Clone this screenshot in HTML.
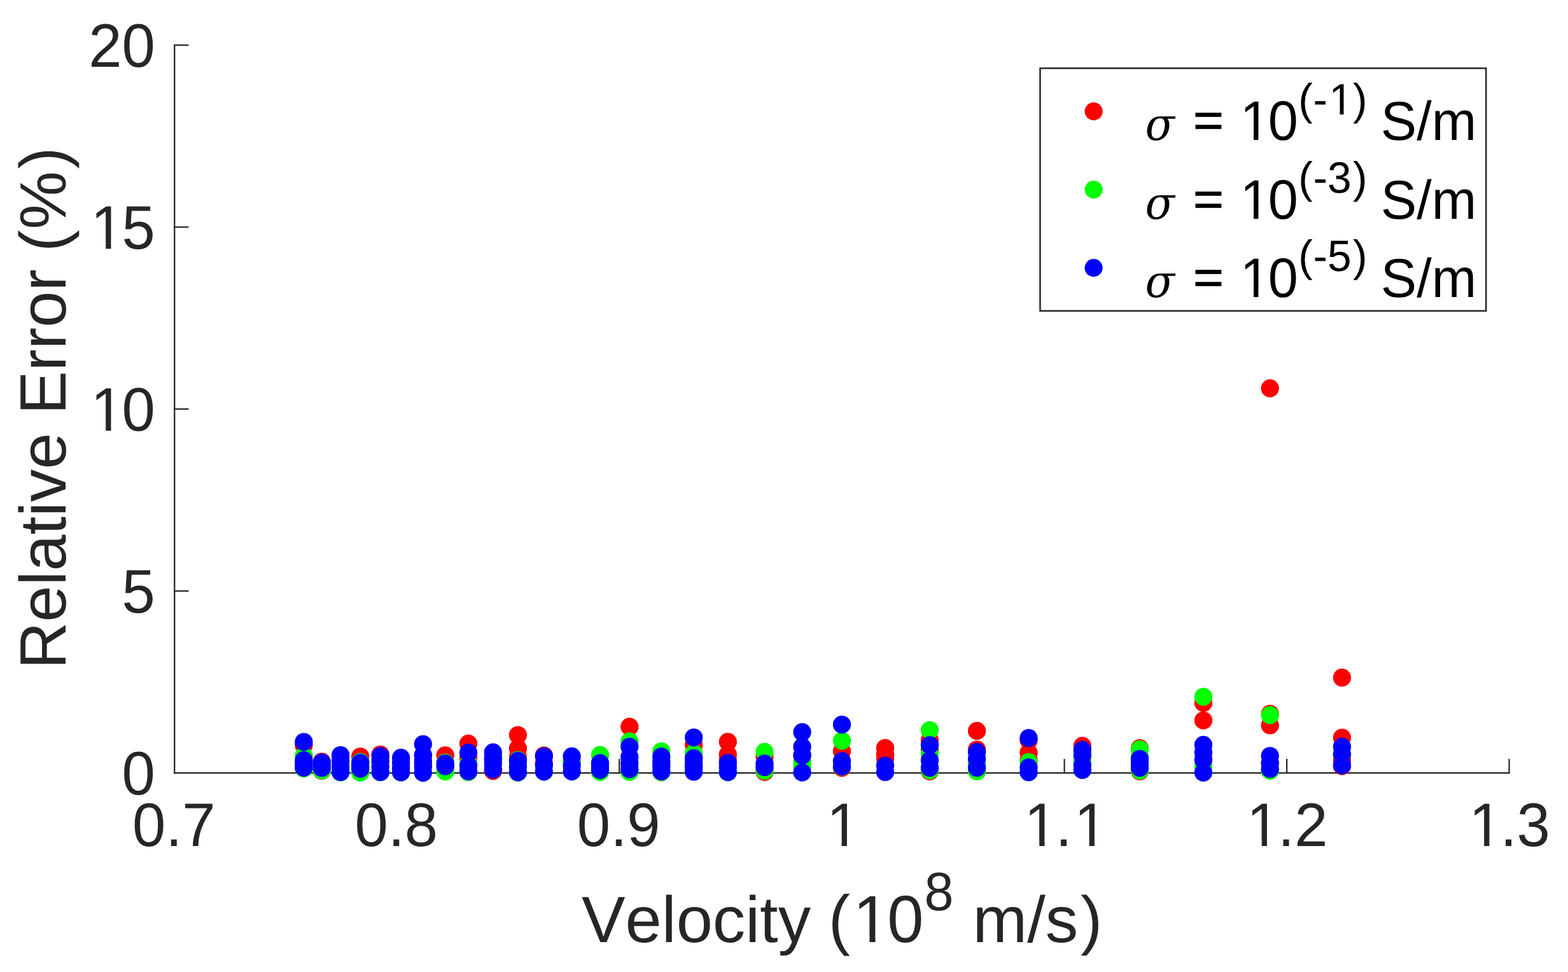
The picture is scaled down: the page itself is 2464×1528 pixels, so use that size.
<!DOCTYPE html>
<html lang="en">
<head>
<meta charset="utf-8">
<title>Relative Error vs Velocity</title>
<style>
html,body{margin:0;padding:0;background:#fff;}
body{width:2464px;height:1528px;overflow:hidden;}
svg{display:block;}
text{font-family:"Liberation Sans",Arial,Helvetica,sans-serif;font-kerning:none;font-variant-ligatures:none;text-rendering:geometricPrecision;white-space:pre;fill:#262626;}
.lg text{fill:#000;}
text.sg{font-family:"DejaVu Serif","Liberation Serif",serif;font-style:italic;}
</style>
</head>
<body>
<svg width="2464" height="1528" viewBox="0 0 2464 1528">
<rect x="0" y="0" width="2464" height="1528" fill="#ffffff"/>
<g id="axes" fill="#262626">
<rect x="273.1" y="69.85" width="2.3" height="1146.45"/>
<rect x="273.1" y="1214.0" width="2099.6" height="2.3"/>
<rect x="622.7" y="1192.95" width="2.2" height="22.2"/>
<rect x="972.1" y="1192.95" width="2.2" height="22.2"/>
<rect x="1321.7" y="1192.95" width="2.2" height="22.2"/>
<rect x="1671.5" y="1192.95" width="2.2" height="22.2"/>
<rect x="2021" y="1192.95" width="2.2" height="22.2"/>
<rect x="2370.45" y="1192.95" width="2.2" height="22.2"/>
<rect x="273.1" y="928" width="23.35" height="2.2"/>
<rect x="273.1" y="641.9" width="23.35" height="2.2"/>
<rect x="273.1" y="355.85" width="23.35" height="2.2"/>
<rect x="273.1" y="69.85" width="23.35" height="2.2"/>
</g>
<g id="xticklabels">
<text transform="translate(207.96,1330) scale(1.0,1.03)" style="font-size:94px" xml:space="preserve">0.7</text>
<text transform="translate(557.46,1330) scale(1.0,1.03)" style="font-size:94px" xml:space="preserve">0.8</text>
<text transform="translate(906.86,1330) scale(1.0,1.03)" style="font-size:94px" xml:space="preserve">0.9</text>
<text transform="translate(1295.66,1330) scale(1.0,1.03)" dx="3.3" style="font-size:94px" xml:space="preserve">1</text>
<text transform="translate(1606.26,1330) scale(1.0,1.03)" dx="3.3 -3.3 3.3" style="font-size:94px" xml:space="preserve">1.1</text>
<text transform="translate(1955.76,1330) scale(1.0,1.03)" dx="3.3 -3.3 0" style="font-size:94px" xml:space="preserve">1.2</text>
<text transform="translate(2305.21,1330) scale(1.0,1.03)" dx="3.3 -3.3 0" style="font-size:94px" xml:space="preserve">1.3</text>
</g>
<g id="yticklabels">
<text transform="translate(191.52,1248.95) scale(1.0,1.03)" style="font-size:94px" xml:space="preserve">0</text>
<text transform="translate(191.52,962.9) scale(1.0,1.03)" style="font-size:94px" xml:space="preserve">5</text>
<text transform="translate(139.24,676.8) scale(1.0,1.03)" dx="3.3 -3.3" style="font-size:94px" xml:space="preserve">10</text>
<text transform="translate(139.24,390.75) scale(1.0,1.03)" dx="3.3 -3.3" style="font-size:94px" xml:space="preserve">15</text>
<text transform="translate(139.24,104.75) scale(1.0,1.03)" style="font-size:94px" xml:space="preserve">20</text>
</g>
<g id="xlabel">
<text transform="translate(914,1480.9)" style="font-size:102.85px" xml:space="preserve">Velocity </text>
<text transform="translate(1302.7,1480.9) scale(1.0,1.02)" dx="-1.03 4.64 -3.62" style="font-size:102.85px" xml:space="preserve">(10</text>
<text transform="translate(1452.55,1431.2) scale(1.0,1.03)" style="font-size:82.7px" xml:space="preserve">8</text>
<text transform="translate(1500.04,1480.9)" dx="0 0 0 0 3.6" style="font-size:102.85px" xml:space="preserve"> m/s)</text>
</g>
<g id="ylabel" transform="translate(103.4,1052.0) rotate(-90)">
<text transform="translate(0,0)" dx="0 0 0 0 0 0 0 0 0 0 0 0 0 0 0 -1.03 1.03 3.6" style="font-size:102.85px" xml:space="preserve">Relative Error (%)</text>
</g>
<g fill="#ffffff">
<rect x="1304.01" y="1321.27" width="18.59" height="10.23"/>
<rect x="1330.91" y="1321.27" width="17.4" height="10.23"/>
<rect x="1614.62" y="1321.27" width="18.59" height="10.23"/>
<rect x="1641.51" y="1321.27" width="17.4" height="10.23"/>
<rect x="1693.01" y="1321.27" width="18.59" height="10.23"/>
<rect x="1719.91" y="1321.27" width="17.4" height="10.23"/>
<rect x="1964.12" y="1321.27" width="18.59" height="10.23"/>
<rect x="1991.01" y="1321.27" width="17.4" height="10.23"/>
<rect x="2313.57" y="1321.27" width="18.59" height="10.23"/>
<rect x="2340.46" y="1321.27" width="17.4" height="10.23"/>
<rect x="147.6" y="668.07" width="18.59" height="10.23"/>
<rect x="174.49" y="668.07" width="17.4" height="10.23"/>
<rect x="147.6" y="382.02" width="18.59" height="10.23"/>
<rect x="174.49" y="382.02" width="17.4" height="10.23"/>
<rect x="1346.09" y="1471.56" width="20.34" height="10.84"/>
<rect x="1375.52" y="1471.56" width="19.03" height="10.84"/>
</g>
<g id="data">
<g id="s1" fill="#ff0000">
<circle cx="477.4" cy="1171.5" r="14.15"/><circle cx="477.4" cy="1200" r="14.15"/>
<circle cx="505.7" cy="1197.3" r="14.15"/><circle cx="505.7" cy="1211.7" r="14.15"/>
<circle cx="566.2" cy="1189.3" r="14.15"/>
<circle cx="597.7" cy="1186.1" r="14.15"/>
<circle cx="664.8" cy="1187.5" r="14.15"/><circle cx="664.8" cy="1200" r="14.15"/>
<circle cx="699.7" cy="1187.4" r="14.15"/>
<circle cx="736" cy="1168.9" r="14.15"/><circle cx="736" cy="1191.8" r="14.15"/>
<circle cx="774.8" cy="1195" r="14.15"/><circle cx="774.8" cy="1211.9" r="14.15"/>
<circle cx="813.9" cy="1155.6" r="14.15"/><circle cx="813.9" cy="1176.4" r="14.15"/><circle cx="813.9" cy="1190" r="14.15"/>
<circle cx="854.8" cy="1187.6" r="14.15"/><circle cx="854.8" cy="1200" r="14.15"/>
<circle cx="898.6" cy="1196" r="14.15"/>
<circle cx="989.25" cy="1142.5" r="14.15"/>
<circle cx="1039.3" cy="1200" r="14.15"/>
<circle cx="1090.2" cy="1170.9" r="14.15"/><circle cx="1090.2" cy="1190" r="14.15"/><circle cx="1090.2" cy="1205" r="14.15"/>
<circle cx="1143.8" cy="1166.2" r="14.15"/><circle cx="1143.8" cy="1185.9" r="14.15"/><circle cx="1143.8" cy="1195" r="14.15"/>
<circle cx="1201.5" cy="1189.1" r="14.15"/><circle cx="1201.5" cy="1213.5" r="14.15"/>
<circle cx="1260.6" cy="1187" r="14.15"/>
<circle cx="1323" cy="1181.1" r="14.15"/><circle cx="1323" cy="1207" r="14.15"/>
<circle cx="1391" cy="1175.8" r="14.15"/><circle cx="1391" cy="1185.5" r="14.15"/><circle cx="1391" cy="1192.8" r="14.15"/>
<circle cx="1461" cy="1163.7" r="14.15"/><circle cx="1461" cy="1178" r="14.15"/><circle cx="1461" cy="1212.4" r="14.15"/>
<circle cx="1535.1" cy="1148.9" r="14.15"/><circle cx="1535.1" cy="1178.3" r="14.15"/>
<circle cx="1616.5" cy="1163.7" r="14.15"/><circle cx="1616.5" cy="1183.3" r="14.15"/><circle cx="1616.5" cy="1195" r="14.15"/>
<circle cx="1700.9" cy="1172.4" r="14.15"/><circle cx="1700.9" cy="1190" r="14.15"/>
<circle cx="1791" cy="1176.2" r="14.15"/><circle cx="1791" cy="1212.4" r="14.15"/>
<circle cx="1891" cy="1105" r="14.15"/><circle cx="1891" cy="1132.6" r="14.15"/><circle cx="1891" cy="1193" r="14.15"/>
<circle cx="1995.7" cy="610.4" r="14.15"/><circle cx="1995.7" cy="1122.2" r="14.15"/><circle cx="1995.7" cy="1140.2" r="14.15"/><circle cx="1995.7" cy="1200" r="14.15"/>
<circle cx="2108.9" cy="1065.2" r="14.15"/><circle cx="2108.9" cy="1159.7" r="14.15"/><circle cx="2108.9" cy="1195" r="14.15"/><circle cx="2108.9" cy="1204.3" r="14.15"/>
</g>
<g id="s3" fill="#00ff00">
<circle cx="477.4" cy="1188" r="14.15"/><circle cx="477.4" cy="1208" r="14.15"/>
<circle cx="505.7" cy="1211.2" r="14.15"/>
<circle cx="535.1" cy="1192" r="14.15"/><circle cx="535.1" cy="1214.2" r="14.15"/>
<circle cx="566.2" cy="1197.8" r="14.15"/><circle cx="566.2" cy="1206" r="14.15"/><circle cx="566.2" cy="1214.4" r="14.15"/>
<circle cx="597.7" cy="1194" r="14.15"/><circle cx="597.7" cy="1213.9" r="14.15"/>
<circle cx="630.1" cy="1214.3" r="14.15"/>
<circle cx="699.7" cy="1198.9" r="14.15"/><circle cx="699.7" cy="1206" r="14.15"/><circle cx="699.7" cy="1212.8" r="14.15"/>
<circle cx="736" cy="1200" r="14.15"/><circle cx="736" cy="1213.7" r="14.15"/>
<circle cx="774.8" cy="1189" r="14.15"/>
<circle cx="813.9" cy="1194.9" r="14.15"/><circle cx="813.9" cy="1214.5" r="14.15"/>
<circle cx="898.6" cy="1197" r="14.15"/>
<circle cx="942.95" cy="1186.9" r="14.15"/><circle cx="942.95" cy="1200" r="14.15"/><circle cx="942.95" cy="1213.6" r="14.15"/>
<circle cx="989.25" cy="1165.3" r="14.15"/><circle cx="989.25" cy="1213.4" r="14.15"/>
<circle cx="1039.3" cy="1181.1" r="14.15"/><circle cx="1039.3" cy="1214.1" r="14.15"/>
<circle cx="1090.2" cy="1184.3" r="14.15"/>
<circle cx="1143.8" cy="1214" r="14.15"/>
<circle cx="1201.5" cy="1182" r="14.15"/><circle cx="1201.5" cy="1211.7" r="14.15"/>
<circle cx="1260.6" cy="1197.1" r="14.15"/><circle cx="1260.6" cy="1205.9" r="14.15"/>
<circle cx="1323" cy="1164.6" r="14.15"/><circle cx="1323" cy="1205.2" r="14.15"/>
<circle cx="1461" cy="1147.8" r="14.15"/><circle cx="1461" cy="1172" r="14.15"/><circle cx="1461" cy="1185.5" r="14.15"/><circle cx="1461" cy="1211" r="14.15"/>
<circle cx="1535.1" cy="1200" r="14.15"/><circle cx="1535.1" cy="1212.4" r="14.15"/>
<circle cx="1616.5" cy="1198.2" r="14.15"/>
<circle cx="1700.9" cy="1195" r="14.15"/>
<circle cx="1791" cy="1177.8" r="14.15"/><circle cx="1791" cy="1190" r="14.15"/><circle cx="1791" cy="1211.3" r="14.15"/>
<circle cx="1891" cy="1095.3" r="14.15"/><circle cx="1891" cy="1205" r="14.15"/>
<circle cx="1995.7" cy="1124.2" r="14.15"/><circle cx="1995.7" cy="1211.5" r="14.15"/>
<circle cx="2108.9" cy="1185.7" r="14.15"/>
</g>
<g id="s5" fill="#0000ff">
<circle cx="477.4" cy="1166.3" r="14.15"/><circle cx="477.4" cy="1195.1" r="14.15"/><circle cx="477.4" cy="1201" r="14.15"/><circle cx="477.4" cy="1206.8" r="14.15"/>
<circle cx="505.7" cy="1198.7" r="14.15"/><circle cx="505.7" cy="1203" r="14.15"/><circle cx="505.7" cy="1207.2" r="14.15"/>
<circle cx="535.1" cy="1187.1" r="14.15"/><circle cx="535.1" cy="1196" r="14.15"/><circle cx="535.1" cy="1205" r="14.15"/><circle cx="535.1" cy="1213.7" r="14.15"/>
<circle cx="566.2" cy="1199.1" r="14.15"/><circle cx="566.2" cy="1204" r="14.15"/><circle cx="566.2" cy="1208.6" r="14.15"/>
<circle cx="597.7" cy="1188.6" r="14.15"/><circle cx="597.7" cy="1197" r="14.15"/><circle cx="597.7" cy="1205.5" r="14.15"/><circle cx="597.7" cy="1213.7" r="14.15"/>
<circle cx="630.1" cy="1191.2" r="14.15"/><circle cx="630.1" cy="1199" r="14.15"/><circle cx="630.1" cy="1207" r="14.15"/><circle cx="630.1" cy="1214.1" r="14.15"/>
<circle cx="664.8" cy="1169.8" r="14.15"/><circle cx="664.8" cy="1187" r="14.15"/><circle cx="664.8" cy="1196" r="14.15"/><circle cx="664.8" cy="1205.5" r="14.15"/><circle cx="664.8" cy="1214.8" r="14.15"/>
<circle cx="699.7" cy="1200.2" r="14.15"/><circle cx="699.7" cy="1204.5" r="14.15"/>
<circle cx="736" cy="1183.2" r="14.15"/><circle cx="736" cy="1203.3" r="14.15"/><circle cx="736" cy="1212.6" r="14.15"/>
<circle cx="774.8" cy="1182.7" r="14.15"/><circle cx="774.8" cy="1192" r="14.15"/><circle cx="774.8" cy="1201" r="14.15"/><circle cx="774.8" cy="1209.7" r="14.15"/>
<circle cx="813.9" cy="1196" r="14.15"/><circle cx="813.9" cy="1205" r="14.15"/><circle cx="813.9" cy="1214.1" r="14.15"/>
<circle cx="854.8" cy="1188.9" r="14.15"/><circle cx="854.8" cy="1202.9" r="14.15"/><circle cx="854.8" cy="1213.1" r="14.15"/>
<circle cx="898.6" cy="1189" r="14.15"/><circle cx="898.6" cy="1203.4" r="14.15"/><circle cx="898.6" cy="1212.8" r="14.15"/>
<circle cx="942.95" cy="1199.6" r="14.15"/><circle cx="942.95" cy="1205" r="14.15"/><circle cx="942.95" cy="1210.3" r="14.15"/>
<circle cx="989.25" cy="1173.8" r="14.15"/><circle cx="989.25" cy="1189.9" r="14.15"/><circle cx="989.25" cy="1200" r="14.15"/><circle cx="989.25" cy="1209.2" r="14.15"/>
<circle cx="1039.3" cy="1189.3" r="14.15"/><circle cx="1039.3" cy="1197" r="14.15"/><circle cx="1039.3" cy="1205" r="14.15"/><circle cx="1039.3" cy="1212.8" r="14.15"/>
<circle cx="1090.2" cy="1159.3" r="14.15"/><circle cx="1090.2" cy="1192" r="14.15"/><circle cx="1090.2" cy="1200" r="14.15"/><circle cx="1090.2" cy="1207" r="14.15"/><circle cx="1090.2" cy="1213.2" r="14.15"/>
<circle cx="1143.8" cy="1199.3" r="14.15"/><circle cx="1143.8" cy="1206.5" r="14.15"/><circle cx="1143.8" cy="1213.7" r="14.15"/>
<circle cx="1201.5" cy="1200.4" r="14.15"/><circle cx="1201.5" cy="1205.9" r="14.15"/>
<circle cx="1260.6" cy="1151" r="14.15"/><circle cx="1260.6" cy="1174.1" r="14.15"/><circle cx="1260.6" cy="1187.4" r="14.15"/><circle cx="1260.6" cy="1214.3" r="14.15"/>
<circle cx="1323" cy="1139.1" r="14.15"/><circle cx="1323" cy="1196.4" r="14.15"/><circle cx="1323" cy="1204.8" r="14.15"/>
<circle cx="1391" cy="1203.6" r="14.15"/><circle cx="1391" cy="1213.7" r="14.15"/>
<circle cx="1461" cy="1171.3" r="14.15"/><circle cx="1461" cy="1195.3" r="14.15"/><circle cx="1461" cy="1207" r="14.15"/>
<circle cx="1535.1" cy="1182.2" r="14.15"/><circle cx="1535.1" cy="1192.8" r="14.15"/><circle cx="1535.1" cy="1207" r="14.15"/>
<circle cx="1616.5" cy="1160.2" r="14.15"/><circle cx="1616.5" cy="1206.5" r="14.15"/><circle cx="1616.5" cy="1213.9" r="14.15"/>
<circle cx="1700.9" cy="1179" r="14.15"/><circle cx="1700.9" cy="1187" r="14.15"/><circle cx="1700.9" cy="1203" r="14.15"/><circle cx="1700.9" cy="1210.4" r="14.15"/>
<circle cx="1791" cy="1193.1" r="14.15"/><circle cx="1791" cy="1200" r="14.15"/><circle cx="1791" cy="1207.1" r="14.15"/>
<circle cx="1891" cy="1171" r="14.15"/><circle cx="1891" cy="1182.9" r="14.15"/><circle cx="1891" cy="1194.7" r="14.15"/><circle cx="1891" cy="1214.6" r="14.15"/>
<circle cx="1995.7" cy="1188.3" r="14.15"/><circle cx="1995.7" cy="1199.6" r="14.15"/><circle cx="1995.7" cy="1208.7" r="14.15"/>
<circle cx="2108.9" cy="1173.9" r="14.15"/><circle cx="2108.9" cy="1185.7" r="14.15"/><circle cx="2108.9" cy="1203" r="14.15"/>
</g>
</g>
<g id="legend" class="lg">
<rect x="1634.5" y="107.3" width="700.7" height="381.4" fill="#ffffff" stroke="#262626" stroke-width="2.5"/>
<circle cx="1718.6" cy="175.1" r="14.1" fill="#ff0000"/>
<text class="sg" transform="translate(1799.5,220.4) scale(0.955,1.0)" style="font-size:71.2px">σ</text>
<text transform="translate(1874.9,215.4) scale(0.97,0.9)" style="font-size:84.6px;stroke:#000;stroke-width:1.1" xml:space="preserve">= </text>
<text transform="translate(1945.71,220.4) scale(1.0,1.035)" dx="2.97 -2.97" style="font-size:84.6px" xml:space="preserve">10</text>
<text transform="translate(2041.01,179.9) scale(1.0,1.02)" dx="-0.68 0.68 2.38 -0.01 -2.37" style="font-size:67.7px" xml:space="preserve">(-1) </text>
<text transform="translate(2169.8,220.4) scale(1.0,1.02)" style="font-size:84.6px" xml:space="preserve">S/m</text>
<circle cx="1718.6" cy="298.1" r="14.1" fill="#00ff00"/>
<text class="sg" transform="translate(1799.5,343.5) scale(0.955,1.0)" style="font-size:71.2px">σ</text>
<text transform="translate(1874.9,338.5) scale(0.97,0.9)" style="font-size:84.6px;stroke:#000;stroke-width:1.1" xml:space="preserve">= </text>
<text transform="translate(1945.71,343.5) scale(1.0,1.035)" dx="2.97 -2.97" style="font-size:84.6px" xml:space="preserve">10</text>
<text transform="translate(2041.01,303) scale(1.0,1.02)" dx="-0.68 0.68 0 2.37 -2.37" style="font-size:67.7px" xml:space="preserve">(-3) </text>
<text transform="translate(2169.8,343.5) scale(1.0,1.02)" style="font-size:84.6px" xml:space="preserve">S/m</text>
<circle cx="1718.6" cy="421.1" r="14.1" fill="#0000ff"/>
<text class="sg" transform="translate(1799.5,466.5) scale(0.955,1.0)" style="font-size:71.2px">σ</text>
<text transform="translate(1874.9,461.5) scale(0.97,0.9)" style="font-size:84.6px;stroke:#000;stroke-width:1.1" xml:space="preserve">= </text>
<text transform="translate(1945.71,466.5) scale(1.0,1.035)" dx="2.97 -2.97" style="font-size:84.6px" xml:space="preserve">10</text>
<text transform="translate(2041.01,426) scale(1.0,1.02)" dx="-0.68 0.68 0 2.37 -2.37" style="font-size:67.7px" xml:space="preserve">(-5) </text>
<text transform="translate(2169.8,466.5) scale(1.0,1.02)" style="font-size:84.6px" xml:space="preserve">S/m</text>
<g fill="#ffffff">
<rect x="1953.23" y="212.36" width="16.73" height="9.54"/>
<rect x="1977.43" y="212.36" width="15.66" height="9.54"/>
<rect x="2092.12" y="173.24" width="13.39" height="8.16"/>
<rect x="2111.49" y="173.24" width="12.53" height="8.16"/>
<rect x="1953.23" y="335.46" width="16.73" height="9.54"/>
<rect x="1977.43" y="335.46" width="15.66" height="9.54"/>
<rect x="1953.23" y="458.46" width="16.73" height="9.54"/>
<rect x="1977.43" y="458.46" width="15.66" height="9.54"/>
</g>
</g>
</svg>
</body>
</html>
